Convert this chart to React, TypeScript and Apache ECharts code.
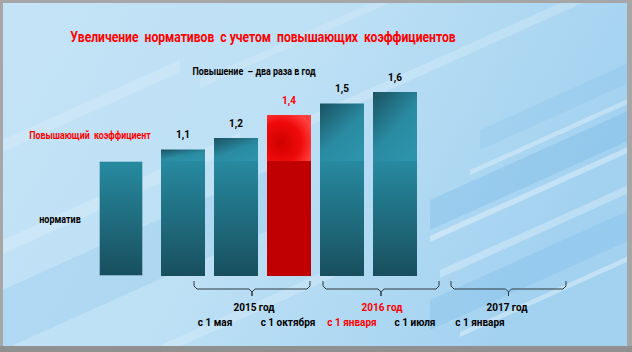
import React, { useEffect, useRef } from "react";
import * as echarts from "echarts";

const baseCategory = ["норматив"];
const baseValue = [1];
const periods = ["с 1 мая", "с 1 октября", "с 1 января", "с 1 июля", "с 1 января"];
const baseValues = [1, 1, 1, 1, 1];
const totals = [1.1, 1.2, 1.4, 1.5, 1.6];
const highlightIndex = 2;
const years = ["2015 год", "2016 год", "2017 год"];
const highlightYear = 1;

const FONT = "Roboto, 'DejaVu Sans', sans-serif";

const tealBase = new echarts.graphic.LinearGradient(0, 0, 0, 1, [
  { offset: 0, color: "#278aa0" },
  { offset: 1, color: "#184f5e" },
]);
const tealTop = new echarts.graphic.LinearGradient(0, 0, 0.7, 1, [
  { offset: 0, color: "#1a5262" },
  { offset: 0.6, color: "#2a8ba2" },
  { offset: 1, color: "#2c93aa" },
]);
const redTop = new echarts.graphic.RadialGradient(0.32, 0.6, 0.75, [
  { offset: 0, color: "#cf0000" },
  { offset: 0.6, color: "#f00a0a" },
  { offset: 1, color: "#ff4040" },
]);

export default function App() {
  const ref = useRef<HTMLDivElement>(null);
  useEffect(() => {
    document.body.style.margin = "0";
    const chart = echarts.init(ref.current!, undefined, { renderer: "svg" });

    const increments = totals.map((t, i) => +(t - baseValues[i]).toFixed(2));

    const yearX = [254, 382, 507];
    const periodX = [215, 288, 352, 415, 480];
    const brackets = [
      [194, 310],
      [323, 439],
      [451, 566],
    ];

    const bracketEls: any[] = brackets.map(([a, b]) => {
      const c = (a + b) / 2;
      return {
        type: "polyline",
        silent: true,
        shape: {
          points: [
            [a, 281],
            [a, 286],
            [a + 3, 289],
            [c - 3, 289],
            [c, 292],
            [c, 296],
            [c, 292],
            [c + 3, 289],
            [b - 3, 289],
            [b, 286],
            [b, 281],
          ],
        },
        style: { stroke: "#2e3a40", lineWidth: 1, fill: null },
        z: 10,
      };
    });

    const txt = (text: string, x: number, y: number, size: number, color: string, sx = 1) => ({
      type: "text",
      x,
      y,
      scaleX: sx,
      z: 20,
      silent: true,
      style: {
        text,
        fill: color,
        fontSize: size,
        fontWeight: "bold",
        fontFamily: FONT,
        align: "center",
        verticalAlign: "middle",
      },
    });

    const streak = (x0: number, y0: number, len: number, w: number, color: string) => {
      const dx = len, dy = -len * 0.45;
      return {
        type: "polygon",
        silent: true,
        z: -9,
        shape: {
          points: [
            [x0, y0],
            [x0 + dx, y0 + dy],
            [x0 + dx, y0 + dy + w],
            [x0, y0 + w],
          ],
        },
        style: { fill: color },
      };
    };

    const edge = "rgba(200,230,242,0.35)";

    const option: any = {
      animation: false,
      graphic: [
        { type: "rect", z: -20, silent: true, shape: { x: 0, y: 0, width: 632, height: 352 }, style: { fill: "#a6a6a6" } },
        { type: "rect", z: -19, silent: true, shape: { x: 0, y: 346, width: 632, height: 6 }, style: { fill: "#909090" } },
        {
          type: "rect",
          z: -18,
          silent: true,
          shape: { x: 3, y: 3, width: 624, height: 343 },
          style: {
            fill: new echarts.graphic.LinearGradient(0, 0, 1, 0.3, [
              { offset: 0, color: "#c4e3f6" },
              { offset: 0.5, color: "#bde0f5" },
              { offset: 1, color: "#a3d2f0" },
            ]),
          },
        },
        {
          type: "group",
          clipPath: { type: "rect", shape: { x: 3, y: 3, width: 624, height: 343 } },
          children: [
            streak(-20, 300, 300, 60, "rgba(140,195,235,0.3)"),
            streak(-20, 250, 260, 14, "rgba(255,255,255,0.18)"),
            streak(-20, 150, 200, 12, "rgba(255,255,255,0.15)"),
            streak(430, 200, 220, 30, "rgba(110,180,230,0.3)"),
            streak(430, 236, 220, 6, "rgba(255,255,255,0.35)"),
            streak(440, 270, 220, 8, "rgba(255,255,255,0.28)"),
            streak(430, 300, 220, 30, "rgba(110,180,230,0.25)"),
            streak(460, 332, 200, 5, "rgba(255,255,255,0.35)"),
            streak(470, 170, 180, 5, "rgba(255,255,255,0.3)"),
            streak(480, 130, 170, 20, "rgba(120,185,230,0.2)"),
            streak(300, 120, 340, 10, "rgba(255,255,255,0.2)"),
            streak(200, 80, 300, 8, "rgba(255,255,255,0.15)"),
            streak(150, 350, 200, 10, "rgba(255,255,255,0.2)"),
          ],
        },
        txt("Увеличение  нормативов  с учетом  повышающих  коэффициентов", 263, 37, 15, "#ff0000", 0.81),
        txt("Повышение  – два раза в год", 254, 71, 10, "#000000", 0.89),
        txt("Повышающий  коэффициент", 90, 135, 10, "#ff0000", 0.88),
        txt("норматив", 60, 219, 10, "#000000", 0.9),
        ...years.map((y, i) => txt(y, yearX[i], 307, 10, i === highlightYear ? "#ff0000" : "#000000")),
        ...periods.map((p, i) => txt(p, periodX[i], 322, 10, i === highlightIndex ? "#ff0000" : "#000000")),
        ...bracketEls,
      ],
      grid: [
        { left: 94.5, width: 53, top: 46, height: 230 },
        { left: 156.5, width: 265, top: 46, height: 230 },
      ],
      xAxis: [
        { type: "category", gridIndex: 0, data: baseCategory, show: false },
        { type: "category", gridIndex: 1, data: periods, show: false },
      ],
      yAxis: [
        { type: "value", gridIndex: 0, min: 0, max: 2, show: false },
        { type: "value", gridIndex: 1, min: 0, max: 2, show: false },
      ],
      series: [
        {
          type: "bar",
          xAxisIndex: 0,
          yAxisIndex: 0,
          barWidth: 44,
          data: baseValue,
          itemStyle: { color: tealBase, borderColor: edge, borderWidth: 1 },
        },
        {
          type: "bar",
          xAxisIndex: 1,
          yAxisIndex: 1,
          stack: "s",
          barWidth: 44,
          data: baseValues.map((v, i) => ({
            value: v,
            itemStyle: {
              color: i === highlightIndex ? "#c00000" : tealBase,
              borderWidth: 0,
            },
          })),
        },
        {
          type: "bar",
          xAxisIndex: 1,
          yAxisIndex: 1,
          stack: "s",
          barWidth: 44,
          data: increments.map((v, i) => ({
            value: v,
            itemStyle: {
              color: i === highlightIndex ? redTop : tealTop,
              borderWidth: 0,
            },
            label: { color: i === highlightIndex ? "#ff0000" : "#000000" },
          })),
          label: {
            show: true,
            position: "top",
            distance: 10,
            fontSize: 10,
            fontWeight: "bold",
            fontFamily: FONT,
            formatter: (p: any) => String(totals[p.dataIndex]).replace(".", ","),
          },
        },
      ],
    };
    chart.setOption(option);
    return () => chart.dispose();
  }, []);
  return <div ref={ref} style={{ position: "absolute", left: 0, top: 0, width: 632, height: 352 }} />;
}
